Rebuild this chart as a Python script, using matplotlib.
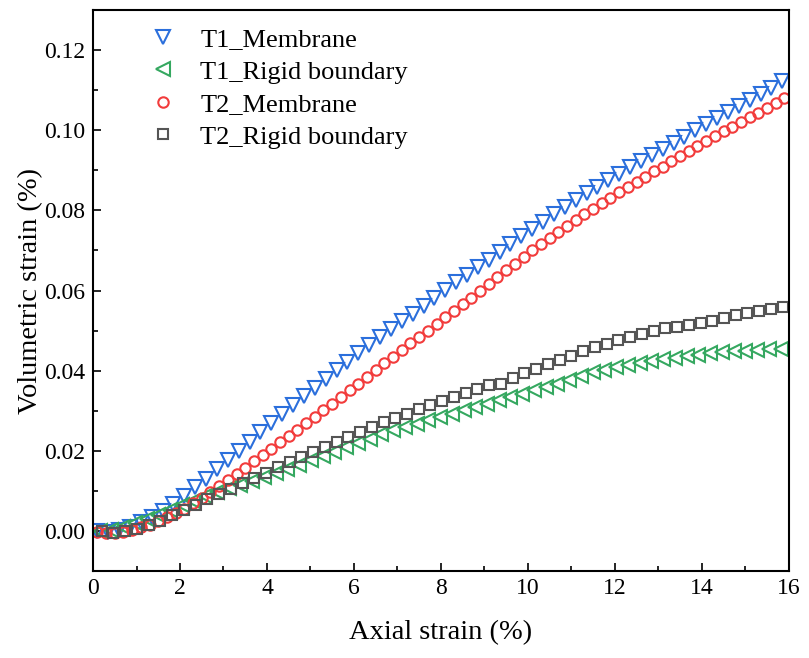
import matplotlib
matplotlib.use("Agg")
import matplotlib.pyplot as plt
from matplotlib.ticker import MultipleLocator, FormatStrFormatter

plt.rcParams['font.family'] = ['Liberation Serif', 'DejaVu Serif']

# T1 membrane (blue triangles)
t1m_x = [0.10, 0.35, 0.60, 0.85, 1.10, 1.35, 1.60, 1.85, 2.10, 2.35,
         2.60, 2.85, 3.10, 3.35, 3.60, 3.85, 4.10, 4.35, 4.60, 4.85,
         5.10, 5.35, 5.60, 5.85, 6.10, 6.35, 6.60, 6.85, 7.10, 7.35,
         7.60, 7.85, 8.10, 8.35, 8.60, 8.85, 9.10, 9.35, 9.60, 9.85,
         10.10, 10.35, 10.60, 10.85, 11.10, 11.35, 11.60, 11.85, 12.10, 12.35,
         12.60, 12.85, 13.10, 13.35, 13.60, 13.85, 14.10, 14.35, 14.60, 14.85,
         15.10, 15.35, 15.60, 15.85]
t1m_y = [0.0000, -0.0003, 0.0002, 0.0010, 0.0022, 0.0036, 0.0051, 0.0068, 0.0088, 0.0109,
         0.0131, 0.0154, 0.0177, 0.0200, 0.0223, 0.0246, 0.0269, 0.0292, 0.0314, 0.0336,
         0.0358, 0.0380, 0.0401, 0.0422, 0.0443, 0.0464, 0.0484, 0.0503, 0.0523, 0.0542,
         0.0562, 0.0581, 0.0601, 0.0620, 0.0639, 0.0658, 0.0677, 0.0696, 0.0716, 0.0735,
         0.0754, 0.0772, 0.0790, 0.0809, 0.0827, 0.0843, 0.0859, 0.0875, 0.0891, 0.0907,
         0.0922, 0.0938, 0.0953, 0.0969, 0.0984, 0.1000, 0.1015, 0.1031, 0.1046, 0.1061,
         0.1076, 0.1091, 0.1106, 0.1122]

# T1 rigid boundary (green left triangles)
t1r_x = [0.15, 0.42, 0.69, 0.96, 1.23, 1.50, 1.77, 2.04, 2.31, 2.58,
         2.85, 3.12, 3.39, 3.66, 3.93, 4.20, 4.47, 4.74, 5.01, 5.28,
         5.55, 5.82, 6.09, 6.36, 6.63, 6.90, 7.17, 7.44, 7.71, 7.98,
         8.25, 8.52, 8.79, 9.06, 9.33, 9.60, 9.87, 10.14, 10.41, 10.68,
         10.95, 11.22, 11.49, 11.76, 12.03, 12.30, 12.57, 12.84, 13.11, 13.38,
         13.65, 13.92, 14.19, 14.46, 14.73, 15.00, 15.27, 15.54, 15.81]
t1r_y = [0.0000, 0.0003, 0.0010, 0.0019, 0.0029, 0.0040, 0.0052, 0.0065, 0.0076, 0.0087,
         0.0097, 0.0107, 0.0116, 0.0126, 0.0135, 0.0145, 0.0156, 0.0166, 0.0177, 0.0187,
         0.0198, 0.0209, 0.0220, 0.0230, 0.0241, 0.0251, 0.0260, 0.0268, 0.0276, 0.0284,
         0.0292, 0.0301, 0.0309, 0.0318, 0.0326, 0.0334, 0.0343, 0.0351, 0.0359, 0.0368,
         0.0377, 0.0386, 0.0396, 0.0402, 0.0408, 0.0414, 0.0419, 0.0423, 0.0428, 0.0432,
         0.0436, 0.0440, 0.0443, 0.0446, 0.0448, 0.0450, 0.0452, 0.0453, 0.0455]

# T2 membrane (red circles)
t2m_x = [0.1, 0.3, 0.5, 0.7, 0.9, 1.1, 1.3, 1.5, 1.7, 1.9,
         2.1, 2.3, 2.5, 2.7, 2.9, 3.1, 3.3, 3.5, 3.7, 3.9,
         4.1, 4.3, 4.5, 4.7, 4.9, 5.1, 5.3, 5.5, 5.7, 5.9,
         6.1, 6.3, 6.5, 6.7, 6.9, 7.1, 7.3, 7.5, 7.7, 7.9,
         8.1, 8.3, 8.5, 8.7, 8.9, 9.1, 9.3, 9.5, 9.7, 9.9,
         10.1, 10.3, 10.5, 10.7, 10.9, 11.1, 11.3, 11.5, 11.7, 11.9,
         12.1, 12.3, 12.5, 12.7, 12.9, 13.1, 13.3, 13.5, 13.7, 13.9,
         14.1, 14.3, 14.5, 14.7, 14.9, 15.1, 15.3, 15.5, 15.7, 15.9]
t2m_y = [-0.0003, -0.0004, -0.0005, -0.0002, 0.0003, 0.0009, 0.0016, 0.0024, 0.0034, 0.0045,
         0.0056, 0.0069, 0.0083, 0.0097, 0.0112, 0.0127, 0.0142, 0.0158, 0.0174, 0.0189,
         0.0205, 0.0221, 0.0237, 0.0253, 0.0269, 0.0285, 0.0302, 0.0318, 0.0335, 0.0352,
         0.0368, 0.0385, 0.0402, 0.0418, 0.0435, 0.0451, 0.0468, 0.0484, 0.0500, 0.0517,
         0.0533, 0.0550, 0.0566, 0.0582, 0.0599, 0.0617, 0.0634, 0.0650, 0.0667, 0.0684,
         0.0700, 0.0715, 0.0731, 0.0746, 0.0761, 0.0775, 0.0790, 0.0804, 0.0818, 0.0831,
         0.0845, 0.0858, 0.0871, 0.0884, 0.0897, 0.0909, 0.0922, 0.0935, 0.0947, 0.0960,
         0.0972, 0.0985, 0.0997, 0.1009, 0.1021, 0.1033, 0.1044, 0.1056, 0.1068, 0.1080]

# T2 rigid boundary (grey squares)
t2r_x = [0.20, 0.47, 0.74, 1.01, 1.28, 1.55, 1.82, 2.09, 2.36, 2.63,
         2.90, 3.17, 3.44, 3.71, 3.98, 4.25, 4.52, 4.79, 5.06, 5.33,
         5.60, 5.87, 6.14, 6.41, 6.68, 6.95, 7.22, 7.49, 7.76, 8.03,
         8.30, 8.57, 8.84, 9.11, 9.38, 9.65, 9.92, 10.19, 10.46, 10.73,
         11.00, 11.27, 11.54, 11.81, 12.08, 12.35, 12.62, 12.89, 13.16, 13.43,
         13.70, 13.97, 14.24, 14.51, 14.78, 15.05, 15.32, 15.59, 15.86]
t2r_y = [0.0000, -0.0004, -0.0001, 0.0005, 0.0015, 0.0025, 0.0039, 0.0053, 0.0066, 0.0080,
         0.0093, 0.0106, 0.0119, 0.0132, 0.0146, 0.0159, 0.0172, 0.0185, 0.0198, 0.0210,
         0.0223, 0.0235, 0.0247, 0.0260, 0.0272, 0.0283, 0.0293, 0.0304, 0.0314, 0.0324,
         0.0334, 0.0345, 0.0355, 0.0364, 0.0368, 0.0382, 0.0394, 0.0405, 0.0416, 0.0427,
         0.0437, 0.0448, 0.0459, 0.0467, 0.0477, 0.0485, 0.0492, 0.0499, 0.0506, 0.0508,
         0.0514, 0.0519, 0.0525, 0.0532, 0.0538, 0.0544, 0.0549, 0.0554, 0.0558]

fig = plt.figure(figsize=(8.09, 6.58), dpi=100)
ax = fig.add_axes([0.115, 0.132, 0.860, 0.853])

style = dict(linestyle='none', markerfacecolor='none', markeredgewidth=1.5)
ax.plot(t1m_x, t1m_y, marker='v', markersize=10, color='#2b6fdc', label='T1_Membrane', **style)
ax.plot(t1r_x, t1r_y, marker='<', markersize=10, color='#35a860', label='T1_Rigid boundary', **style)
ax.plot(t2m_x, t2m_y, marker='o', markersize=7.5, color='#f23c3c', label='T2_Membrane', **style)
ax.plot(t2r_x, t2r_y, marker='s', markersize=7, color='#555555', label='T2_Rigid boundary', **style)

ax.set_xlim(0, 16)
ax.set_ylim(-0.01, 0.13)
ax.xaxis.set_major_locator(MultipleLocator(2))
ax.xaxis.set_minor_locator(MultipleLocator(1))
ax.yaxis.set_major_locator(MultipleLocator(0.02))
ax.yaxis.set_minor_locator(MultipleLocator(0.01))
ax.yaxis.set_major_formatter(FormatStrFormatter('%.2f'))
ax.tick_params(which='both', direction='in', width=1.2, labelsize=17)
ax.tick_params(which='major', length=6)
ax.tick_params(which='minor', length=3.5)
ax.tick_params(axis='x', pad=5)
ax.tick_params(axis='y', pad=5.5)
for s in ax.spines.values():
    s.set_linewidth(1.5)

ax.set_xlabel('Axial strain (%)', fontsize=20.5, labelpad=15)
ax.set_ylabel('Volumetric strain (%)', fontsize=20.5, labelpad=1)

ax.legend(loc='upper left', bbox_to_anchor=(0.067, 0.987), frameon=False, fontsize=19,
          handlelength=1.0, handletextpad=0.9, labelspacing=0.34, borderaxespad=0)

fig.savefig('out.png', dpi=100)
